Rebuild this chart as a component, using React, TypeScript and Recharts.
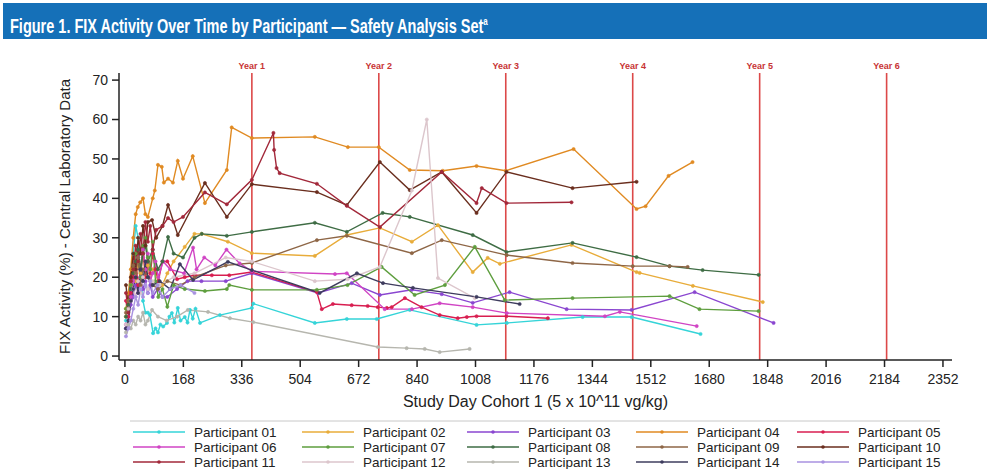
import {
  LineChart,
  Line,
  XAxis,
  YAxis,
  ReferenceLine,
} from 'recharts';

type Pt = [number, number];

// [study day, FIX activity %]
const p01: Pt[] = [[3,9],[10,12],[17,17],[24,26],[31,33],[38,30],[45,20],[52,14],[59,11],[66,11],[72,10.4],[81,5.8],[88,7],[95,6],[102,8],[110,7.5],[121,8.4],[128,10],[135,10.9],[142,8.5],[152,12.2],[160,9],[172,9.9],[180,8.5],[187,11.7],[195,9.5],[203,12],[216,8.4],[273,10.4],[365,12.2],[369,13.3],[546,8.4],[638,9.4],[724,9.4],[819,11.7],[1011,7.9],[1098,8.4],[1316,9.9],[1457,9.9],[1655,5.6]];
const p02: Pt[] = [[3,10],[10,14],[17,18],[24,22],[31,19],[38,24],[45,21],[52,26],[59,20],[66,23],[73,19],[80,22],[94,20],[108,18],[122,21],[140,24],[172,27.7],[200,31],[221,31],[296,29],[365,26.1],[546,25.4],[638,30.7],[733,32.5],[825,29],[900,33.2],[1000,21.3],[1043,24.9],[1078,23.4],[1284,28.2],[1471,21.3],[1480,21.1],[1633,17.8],[1834,13.7]];
const p03: Pt[] = [[3,7],[10,10],[17,13],[24,15],[31,18],[38,16],[45,20],[52,17],[59,19],[66,16],[73,18],[80,15],[94,17],[108,15],[122,15],[150,17],[180,19],[220,19],[290,19],[365,21],[555,16],[652,18.5],[733,15.5],[825,16.8],[911,15.7],[1000,13.5],[1106,16.2],[1270,11.9],[1457,11.7],[1638,16.2],[1865,8.4]];
const p04: Pt[] = [[3,12],[10,16],[17,22],[24,30],[31,36],[37,37.8],[44,39],[52,40],[59,36],[66,35.3],[80,40],[86,42],[95,48.5],[106,48],[112,44],[124,45],[138,44],[152,49.5],[167,45],[195,50.7],[230,38.8],[293,47.2],[307,58],[365,55.3],[546,55.6],[641,53],[730,53],[819,47.2],[914,47],[1011,48.2],[1095,47],[1290,52.5],[1471,37.3],[1497,38],[1563,45.7],[1632,49.2]];
const p05: Pt[] = [[3,14],[10,10],[17,16],[24,20],[31,24],[38,18],[45,22],[52,28],[59,20],[66,24],[73,21],[80,26],[88,22],[96,19],[108,24],[122,24],[150,19.5],[172,20],[200,20.5],[250,20.5],[300,20.5],[365,21.3],[552,16.2],[566,11.9],[598,13.2],[652,12.9],[698,12.7],[727,12.4],[753,12.2],[767,12.4],[805,14.7],[853,12.4],[905,10.4],[957,9.6],[983,9.9],[1011,10.1],[1097,10.1],[1216,9.6]];
const p06: Pt[] = [[3,8],[10,12],[17,15],[24,19],[31,22],[38,25],[45,20],[52,27],[59,22],[66,26],[73,19],[80,21],[88,24],[96,20],[110,24],[130,22],[170,21],[196,27.5],[206,22],[228,25],[260,23],[292,27],[330,23.5],[365,21.5],[604,20.8],[638,21],[747,11.9],[825,11.9],[905,13.4],[1000,12.4],[1098,10.9],[1380,10.1],[1423,11.2],[1644,7.6]];
const p07: Pt[] = [[3,12],[10,14],[17,18],[24,22],[31,26],[38,24],[45,20],[52,28],[59,30],[66,25],[73,22],[80,29],[88,19],[96,15],[108,17],[122,12.5],[140,18],[172,17],[230,16.5],[293,17],[300,18],[365,16.8],[552,16.8],[640,18],[738,22.6],[833,15.5],[920,18],[1006,27.7],[1092,14.2],[1287,14.7],[1566,15.2],[1652,11.9],[1822,11.4]];
const p08: Pt[] = [[3,10],[10,13],[17,17],[24,21],[31,24],[38,27],[45,22],[52,26],[59,28],[66,24],[80,27],[95,22],[108,24],[124,30.2],[140,26],[167,25],[200,30],[221,31],[293,30.5],[365,31.5],[546,33.8],[638,31.5],[741,36.3],[819,35.3],[1000,30.7],[1097,26.4],[1287,28.7],[1471,25.1],[1566,22.8],[1661,21.8],[1822,20.6]];
const p09: Pt[] = [[3,11],[10,14],[17,19],[24,23],[31,21],[38,25],[45,18],[52,22],[66,20],[80,18],[95,17],[122,19],[160,18],[200,20],[290,23],[365,23.6],[552,29.4],[638,30.5],[825,26.1],[911,29.4],[1098,25.6],[1287,23.6],[1460,22.8],[1566,22.8],[1618,22.6]];
const p10: Pt[] = [[3,18],[10,12],[17,20],[24,26],[31,22],[38,30],[45,26],[52,33],[59,28],[66,34],[78,34.5],[90,30],[108,33],[124,38.3],[152,30.7],[230,43.9],[293,35.3],[365,43.6],[552,41.6],[638,38.3],[733,49.2],[819,42.1],[911,46.7],[1011,36.3],[1097,46.7],[1287,42.6],[1471,44.2]];
const p11: Pt[] = [[3,16],[10,11],[17,19],[24,22],[31,28],[38,24],[45,31],[52,26],[59,34],[66,29],[73,33],[80,27],[90,32],[108,33],[124,35],[140,34],[167,35.3],[230,41.5],[293,38.5],[365,44.7],[427,56.6],[429,52.3],[436,47.7],[445,46.4],[552,43.7],[638,38.1],[733,32.7],[911,46.7],[1011,38.8],[1026,42.6],[1097,38.8],[1284,39]];
const p12: Pt[] = [[3,8],[10,12],[17,14],[24,17],[31,15],[38,19],[45,16],[52,20],[66,17],[80,19],[100,18],[140,20],[200,21],[290,25],[365,24],[546,19],[640,19.5],[733,22.6],[825,42],[868,60],[900,19.8],[1006,14.7]];
const p13: Pt[] = [[3,6],[10,8],[17,7],[24,9],[31,8],[38,10],[45,9],[52,11],[59,8],[66,9],[78,11.7],[95,10],[120,9],[150,10],[181,11.7],[239,11.2],[302,9.6],[369,8.6],[727,2.3],[810,2],[862,1.8],[905,1],[991,1.8]];
const p14: Pt[] = [[3,7],[10,9],[17,14],[24,17],[31,20],[38,16],[45,22],[52,19],[59,24],[66,20],[80,18],[100,19],[130,17],[158,23.3],[196,19.3],[296,23.9],[365,21.8],[560,16],[667,21],[742,18.5],[828,17.3],[1011,15],[1135,13.2]];
const p15: Pt[] = [[3,5],[10,7],[17,9],[24,12],[31,15],[38,13],[45,17],[52,15],[59,18],[66,16],[73,19],[80,16],[94,18],[108,15],[130,17],[160,18],[200,16]];

const participants = [
  { name: 'Participant 01', color: '#35d4d8', pts: p01 },
  { name: 'Participant 02', color: '#e8ac3a', pts: p02 },
  { name: 'Participant 03', color: '#8a46d0', pts: p03 },
  { name: 'Participant 04', color: '#e08a22', pts: p04 },
  { name: 'Participant 05', color: '#d81e50', pts: p05 },
  { name: 'Participant 06', color: '#d044c4', pts: p06 },
  { name: 'Participant 07', color: '#5e9e3e', pts: p07 },
  { name: 'Participant 08', color: '#3e6c44', pts: p08 },
  { name: 'Participant 09', color: '#8e6646', pts: p09 },
  { name: 'Participant 10', color: '#6a2e1e', pts: p10 },
  { name: 'Participant 11', color: '#a2283a', pts: p11 },
  { name: 'Participant 12', color: '#dcc6cc', pts: p12 },
  { name: 'Participant 13', color: '#b6b6ae', pts: p13 },
  { name: 'Participant 14', color: '#3e3c5e', pts: p14 },
  { name: 'Participant 15', color: '#a892e0', pts: p15 },
];

const xTicks = [0, 168, 336, 504, 672, 840, 1008, 1176, 1344, 1512, 1680, 1848, 2016, 2184, 2352];
const yTicks = [0, 10, 20, 30, 40, 50, 60, 70];
const yearDays = [365, 730, 1095, 1460, 1825, 2190];

const FONT = "'Liberation Sans', Arial, sans-serif";

const legendCols = [133, 302, 467, 636, 797];
const legendRows = [432, 447, 462];

function LegendBox() {
  return (
    <svg width={987} height={469} style={{ position: 'absolute', left: 0, top: 0, pointerEvents: 'none' }}>
      <line x1={130} x2={940} y1={421} y2={421} stroke="#c8c8c8" strokeWidth={1} />
      {participants.map((p, i) => {
        const x = legendCols[i % 5];
        const y = legendRows[Math.floor(i / 5)];
        return (
          <g key={p.name}>
            <line x1={x} x2={x + 52} y1={y} y2={y} stroke={p.color} strokeWidth={1.6} />
            <circle cx={x + 26} cy={y} r={1.8} fill={p.color} />
            <text x={x + 61} y={y} dy="0.35em" fontSize={13.5} fontFamily={FONT} fill="#222">
              {p.name}
            </text>
          </g>
        );
      })}
    </svg>
  );
}

export default function App() {
  return (
    <div style={{ position: 'absolute', left: 0, top: 0, width: 987, height: 469, background: '#fff', overflow: 'hidden' }}>
      <div
        style={{
          position: 'absolute', left: 3, top: 3, width: 984, height: 36, background: '#1570b8',
          color: '#fff', fontFamily: FONT, fontWeight: 'bold', fontSize: 20, lineHeight: '36px',
          whiteSpace: 'nowrap',
        }}
      >
        <span style={{ display: 'inline-block', marginLeft: 7, transform: 'scaleX(0.725)', transformOrigin: 'left center' }}>
          Figure 1. FIX Activity Over Time by Participant — Safety Analysis Set<sup style={{ fontSize: 11 }}>a</sup>
        </span>
      </div>
      <div style={{ position: 'absolute', left: 0, top: 0 }}>
        <LineChart width={987} height={469} margin={{ top: 73, right: 35, bottom: 79, left: 59 }}>
          <XAxis
            type="number"
            dataKey="day"
            domain={[-17, 2378]}
            ticks={xTicks}
            allowDataOverflow
            height={30}
            tickSize={7}
            tickMargin={7}
            stroke="#222"
            strokeWidth={1.5}
            tick={{ fontSize: 14, fill: '#222', fontFamily: FONT }}
            label={{ value: 'Study Day Cohort 1 (5 x 10^11 vg/kg)', position: 'bottom', offset: 6, fontSize: 16, fill: '#222', fontFamily: FONT }}
          />
          <XAxis xAxisId="top" orientation="top" type="number" domain={[-17, 2378]} tick={false} tickLine={false} height={0} stroke="#222" strokeWidth={1.5} />
          <YAxis
            type="number"
            domain={[-1, 71.8]}
            ticks={yTicks}
            allowDataOverflow
            width={60}
            tickSize={7}
            tickMargin={4}
            stroke="#222"
            strokeWidth={1.5}
            tick={{ fontSize: 14, fill: '#222', fontFamily: FONT }}
            label={{ value: 'FIX Activity (%) - Central Laboratory Data', angle: -90, position: 'insideLeft', offset: 6, style: { textAnchor: 'middle' }, fontSize: 15, fill: '#222', fontFamily: FONT }}
          />
          <YAxis yAxisId="right" orientation="right" domain={[-1, 71.8]} tick={false} tickLine={false} width={0} stroke="#222" strokeWidth={1.5} />
          {yearDays.map((d, i) => (
            <ReferenceLine
              key={d}
              x={d}
              stroke="#dc4848"
              strokeWidth={1.6}
              label={{ value: `Year ${i + 1}`, position: 'top', offset: 4, fontSize: 9, fontWeight: 'bold', fill: '#c83434', fontFamily: FONT }}
            />
          ))}
          {participants.map((p) => (
            <Line
              key={p.name}
              data={p.pts.map(([day, v]) => ({ day, v }))}
              dataKey="v"
              name={p.name}
              type="linear"
              stroke={p.color}
              strokeWidth={1.4}
              dot={{ r: 1.6, fill: p.color, stroke: p.color, strokeWidth: 0.6 }}
              isAnimationActive={false}
            />
          ))}
        </LineChart>
      </div>
      <LegendBox />
    </div>
  );
}
